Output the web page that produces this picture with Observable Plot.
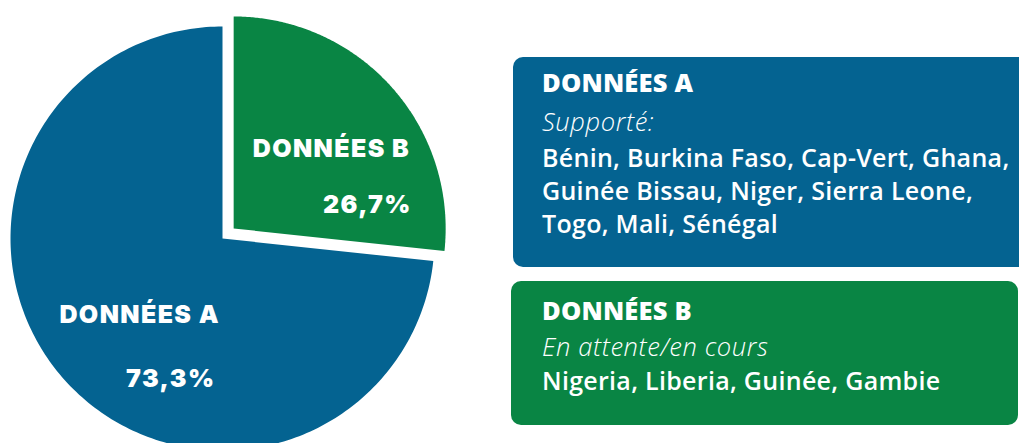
<!DOCTYPE html>
<html>
<head>
<meta charset="utf-8">
<script src="https://cdn.jsdelivr.net/npm/d3@7"></script>
<script src="https://cdn.jsdelivr.net/npm/@observablehq/plot@0.6"></script>
<style>
  html, body { margin: 0; padding: 0; background: #fff; overflow: hidden; }
  #wrap { position: relative; width: 1019px; height: 443px; overflow: hidden; }
  #chart { position: absolute; left: 0; top: 0; }
  .box { position: absolute; border-radius: 10px; overflow: hidden; color: #fff; }
  .line { position: absolute; white-space: nowrap; line-height: 1; font-family: "Open Sans", sans-serif; }
  .pielabel text { letter-spacing: 1.4px; }
</style>
</head>
<body>
<div id="wrap"><div id="chart"></div></div>
<script>
// ---- data ----
const categories = ["DONNÉES B", "DONNÉES A"];          // clockwise from 12 o'clock
const shares = [26.7, 73.3];
const shareLabels = ["26,7%", "73,3%"];
const colors = ["#098544", "#046391"];
const exploded = [true, false];
const boxTitles = ["DONNÉES A", "DONNÉES B"];
const boxSubtitles = ["Supporté:", "En attente/en cours"];
const boxCountriesA = ["Bénin, Burkina Faso, Cap-Vert, Ghana,", "Guinée Bissau, Niger, Sierra Leone,", "Togo, Mali, Sénégal"];
const boxCountriesB = ["Nigeria, Liberia, Guinée, Gambie"];

// ---- pie geometry (unit radius, y up) ----
const R = 212;                 // pixels per unit
const cx = 222, cy = 238;      // pie centre in pixels
const explodeDist = 15 / R;
const arcs = d3.pie().sort(null)(shares);
const slices = categories.map((name, i) => {
  const a = arcs[i];
  const mid = (a.startAngle + a.endAngle) / 2;
  const e = exploded[i] ? explodeDist : 0;
  const ox = e * Math.sin(mid), oy = e * Math.cos(mid);
  const pts = [{x: ox, y: oy}];
  const n = 240;
  for (let k = 0; k <= n; k++) {
    const t = a.startAngle + (a.endAngle - a.startAngle) * k / n;
    pts.push({x: ox + Math.sin(t), y: oy + Math.cos(t)});
  }
  return {name, pct: shareLabels[i], color: colors[i], pts,
          lx: ox + 0.62 * Math.sin(mid), ly: oy + 0.62 * Math.cos(mid)};
});

// label nudges (pixels) per slice
const nudges = {
  "DONNÉES B": {name: [0, 8], pct: [36, 64]},
  "DONNÉES A": {name: [15, -11], pct: [46, 53]}
};

const marks = [];
for (const s of slices) {
  marks.push(Plot.line(s.pts, {x: "x", y: "y", fill: s.color, stroke: "none", curve: "linear-closed"}));
}
for (const s of slices) {
  const nd = nudges[s.name];
  marks.push(Plot.text([s], {x: "lx", y: "ly", text: "name", fill: "white", fontSize: 25, fontWeight: 900,
    fontFamily: "Inter", dx: nd.name[0], dy: nd.name[1], className: "pielabel"}));
  marks.push(Plot.text([s], {x: "lx", y: "ly", text: "pct", fill: "white", fontSize: 25, fontWeight: 900,
    fontFamily: "Inter", dx: nd.pct[0], dy: nd.pct[1], className: "pielabel"}));
}

const chart = Plot.plot({
  width: 1019,
  height: 443,
  x: {domain: [-1, 1], range: [cx - R, cx + R], axis: null},
  y: {domain: [-1, 1], range: [cy + R, cy - R], axis: null},
  style: {background: "transparent", overflow: "visible"},
  marks
});
document.getElementById("chart").appendChild(chart);

// ---- legend boxes ----
const wrap = document.getElementById("wrap");
function makeBox(left, top, width, height, color, lines) {
  const b = document.createElement("div");
  b.className = "box";
  Object.assign(b.style, {left: left + "px", top: top + "px", width: width + "px", height: height + "px", background: color});
  for (const ln of lines) {
    const d = document.createElement("div");
    d.className = "line";
    d.textContent = ln.text;
    Object.assign(d.style, {left: ln.x + "px", top: (ln.base - 0.888 * ln.size) + "px", fontSize: ln.size + "px",
      fontWeight: ln.weight, fontStyle: ln.italic ? "italic" : "normal", letterSpacing: (ln.ls || 0) + "px"});
    b.appendChild(d);
  }
  wrap.appendChild(b);
}
const bodySize = 25;
const titleSize = 25.5;
const subSize = 25.5;
makeBox(513, 57, 530, 210, colors[1], [
  {text: boxTitles[0], x: 29, base: 36, size: titleSize, weight: 800, ls: 0.2},
  {text: boxSubtitles[0], x: 29, base: 75, size: subSize, weight: 300, italic: true, ls: 0.6},
  ...boxCountriesA.map((t, i) => ({text: t, x: 29, base: 110 + 33 * i, size: bodySize, weight: 600, ls: 0.3}))
]);
makeBox(511, 281, 507, 144, colors[0], [
  {text: boxTitles[1], x: 31, base: 40, size: titleSize, weight: 800, ls: 0.2},
  {text: boxSubtitles[1], x: 31, base: 76, size: subSize, weight: 300, italic: true, ls: 0.6},
  ...boxCountriesB.map((t, i) => ({text: t, x: 31, base: 109 + 33 * i, size: bodySize, weight: 600, ls: 0.3}))
]);
</script>
</body>
</html>
